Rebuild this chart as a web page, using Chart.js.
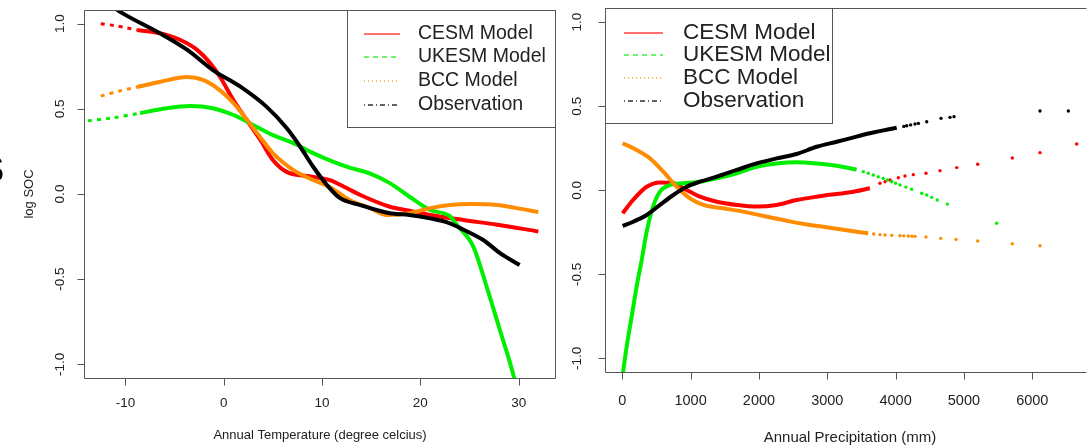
<!DOCTYPE html>
<html>
<head>
<meta charset="utf-8">
<script src="https://cdn.jsdelivr.net/npm/chart.js@4.4.0/dist/chart.umd.min.js"></script>
<style>
  body { margin: 0; overflow: hidden; background: #fff; }
  canvas { position: absolute; top: 0; }
</style>
</head>
<body>
<canvas id="tempChart" width="575" height="446" style="left:0px"></canvas>
<canvas id="precChart" width="527" height="446" style="left:560px"></canvas>
<script>
// ---- left panel: annual temperature ----
const tempTicksX = [-10, 0, 10, 20, 30];
const socTicks = [-1.0, -0.5, 0.0, 0.5, 1.0];

const tempCesmHeadX = [-12.5, -11.2, -9.9, -8.8];
const tempCesmHeadY = [1.0, 0.99, 0.976, 0.963];
const tempCesmX = [-8.8, -6.5, -4.4, -2.7, -1.4, -0.4, 1.0, 2.4, 3.7, 5.0, 6.4, 8.5, 10.8, 12.5, 13.9, 16.9, 18.9, 21, 24.4, 27.8, 32];
const tempCesmY = [0.963, 0.944, 0.904, 0.846, 0.77, 0.69, 0.55, 0.43, 0.32, 0.2, 0.13, 0.106, 0.082, 0.035, -0.006, -0.075, -0.098, -0.123, -0.153, -0.18, -0.22];

const tempUkesmHeadX = [-13.8, -11.5, -8.5];
const tempUkesmHeadY = [0.43, 0.445, 0.475];
const tempUkesmX = [-8.5, -5.8, -3.4, -1.1, 1.0, 3.0, 5.0, 7.1, 9.1, 11.1, 12.8, 14.9, 16.9, 18.9, 21, 23.0, 23.7, 25.4, 26.75, 28.1, 29.5, 29.8];
const tempUkesmY = [0.475, 0.504, 0.517, 0.504, 0.464, 0.405, 0.346, 0.299, 0.24, 0.19, 0.155, 0.12, 0.064, -0.016, -0.094, -0.13, -0.18, -0.31, -0.545, -0.8, -1.07, -1.15];

const tempBccHeadX = [-12.5, -10.6, -8.8];
const tempBccHeadY = [0.575, 0.605, 0.628];
const tempBccX = [-8.8, -6.5, -3.7, -2.1, -0.4, 1.0, 2.4, 3.7, 5.0, 7.1, 9.1, 10.8, 12.8, 14.9, 16.6, 18.9, 21, 23, 25.1, 27.8, 29.8, 32];
const tempBccY = [0.628, 0.658, 0.687, 0.67, 0.61, 0.534, 0.434, 0.335, 0.24, 0.14, 0.082, 0.04, -0.035, -0.083, -0.123, -0.113, -0.083, -0.065, -0.059, -0.065, -0.083, -0.106];

const tempObsX = [-11.8, -10.4, -6.5, -3.7, -1.1, 1.7, 4.4, 6.4, 7.8, 9.1, 10.5, 11.8, 13.9, 16.9, 18.9, 21, 23, 24.4, 26.4, 28.1, 30.1];
const tempObsY = [1.12, 1.065, 0.944, 0.846, 0.728, 0.63, 0.51, 0.387, 0.276, 0.16, 0.053, -0.023, -0.065, -0.113, -0.123, -0.143, -0.172, -0.21, -0.27, -0.347, -0.417];

// ---- right panel: annual precipitation ----
const precTicksX = [0, 1000, 2000, 3000, 4000, 5000, 6000];

const precCesmX = [5, 157, 357, 552, 742, 890, 1137, 1381, 1674, 1967, 2259, 2552, 2845, 3138, 3332, 3624];
const precCesmY = [-0.137, -0.058, 0.021, 0.047, 0.043, 0.014, -0.038, -0.068, -0.087, -0.097, -0.087, -0.058, -0.038, -0.022, -0.012, 0.012];
const precCesmDotX = [3771, 3845, 3918, 4040, 4137, 4259, 4445, 4650, 4894, 5201, 5708, 6113, 6650];
const precCesmDotY = [0.042, 0.051, 0.061, 0.075, 0.085, 0.093, 0.101, 0.117, 0.135, 0.155, 0.192, 0.224, 0.275];

const precUkesmX = [5, 64, 137, 210, 284, 357, 450, 552, 698, 890, 1137, 1381, 1674, 1967, 2259, 2552, 2845, 3138, 3332, 3430];
const precUkesmY = [-1.1, -0.93, -0.752, -0.573, -0.415, -0.245, -0.098, -0.008, 0.032, 0.042, 0.051, 0.071, 0.101, 0.14, 0.16, 0.167, 0.16, 0.146, 0.131, 0.123];
const precUkesmDotX = [3528, 3600, 3674, 3745, 3820, 3880, 3943, 4000, 4064, 4150, 4235, 4382, 4455, 4528, 4610, 4757, 5479];
const precUkesmDotY = [0.111, 0.101, 0.091, 0.081, 0.071, 0.061, 0.051, 0.042, 0.032, 0.019, 0.006, -0.018, -0.028, -0.042, -0.058, -0.082, -0.196];

const precBccX = [5, 210, 405, 600, 796, 991, 1186, 1478, 1771, 2064, 2357, 2650, 2942, 3234, 3600];
const precBccY = [0.28, 0.24, 0.19, 0.111, 0.021, -0.048, -0.087, -0.107, -0.127, -0.153, -0.177, -0.2, -0.217, -0.235, -0.256];
const precBccDotX = [3680, 3771, 3845, 3943, 4064, 4120, 4186, 4240, 4284, 4445, 4660, 4884, 5201, 5708, 6113];
const precBccDotY = [-0.26, -0.264, -0.266, -0.268, -0.27, -0.271, -0.272, -0.273, -0.274, -0.278, -0.286, -0.292, -0.302, -0.318, -0.33];

const precObsX = [5, 161, 357, 552, 747, 942, 1137, 1381, 1674, 1967, 2259, 2552, 2845, 3138, 3332, 3624, 4016];
const precObsY = [-0.212, -0.187, -0.147, -0.087, -0.028, 0.021, 0.051, 0.081, 0.121, 0.16, 0.19, 0.216, 0.259, 0.289, 0.309, 0.339, 0.372];
const precObsDotX = [4120, 4162, 4220, 4284, 4333, 4455, 4665, 4796, 4855, 6113, 6528];
const precObsDotY = [0.38, 0.384, 0.389, 0.394, 0.398, 0.408, 0.428, 0.434, 0.438, 0.472, 0.472];

const legendNames = ['CESM Model', 'UKESM Model', 'BCC Model', 'Observation'];
const RED = '#ff0000', GREEN = '#00ee00', ORANGE = '#ff8c00', BLACK = '#000000';
const legendColors = ['#ff4040', '#40ee40', '#ffa030', '#333333'];
const legendDash = [[], [5, 4], [1, 3], [1, 3, 5, 3]];
const FONT = '"Liberation Sans", Arial, Helvetica, sans-serif';

function pts(xs, ys) { return xs.map((x, i) => ({x: x, y: ys[i]})); }
function curve(xs, ys, c) {
  return {data: pts(xs, ys), showLine: true, borderColor: c, borderWidth: 4, pointRadius: 0,
    cubicInterpolationMode: 'monotone', fill: false};
}
function head(xs, ys, c) {
  return {data: pts(xs, ys), showLine: true, borderColor: c, borderWidth: 3, borderDash: [4, 5],
    pointRadius: 0, tension: 0.3, fill: false};
}
function dots(xs, ys, c) {
  return {data: pts(xs, ys), showLine: false, pointRadius: 1.7, pointBorderWidth: 0,
    pointBackgroundColor: c, borderColor: c};
}

function axisOpts(min, max, tickValues, fitSize, horizontal) {
  return {
    type: 'linear', min: min, max: max,
    ticks: {display: false},
    afterBuildTicks: s => { s.ticks = tickValues.map(v => ({value: v})); },
    grid: {display: false},
    border: {display: false},
    afterFit: s => { if (horizontal) s.height = fitSize; else s.width = fitSize; }
  };
}

// box, tick marks, tick labels, titles and legend drawn like the R base graphics
function decorPlugin(cfg) {
  return {
    id: 'decor',
    afterDatasetsDraw(chart) {
      const ctx = chart.ctx, a = chart.chartArea;
      const xs = chart.scales.x, ys = chart.scales.y;
      ctx.save();
      ctx.strokeStyle = '#555';
      ctx.lineWidth = 1;
      const L = Math.round(a.left) + 0.5, T = Math.round(a.top) + 0.5;
      const R = Math.round(a.right) - 0.5, B = Math.round(a.bottom) + 0.5;
      ctx.beginPath();
      ctx.moveTo(R, T); ctx.lineTo(L, T); ctx.lineTo(L, B); ctx.lineTo(R, B);
      if (cfg.rightBorder) ctx.lineTo(R, T);
      cfg.xTicks.forEach(v => {
        const px = Math.round(xs.getPixelForValue(v)) + 0.5;
        ctx.moveTo(px, B); ctx.lineTo(px, B + 7);
      });
      cfg.yTicks.forEach(v => {
        const py = Math.round(ys.getPixelForValue(v)) + 0.5;
        ctx.moveTo(L, py); ctx.lineTo(L - 7, py);
      });
      ctx.stroke();

      ctx.fillStyle = '#222';
      ctx.textAlign = 'center';
      ctx.textBaseline = 'middle';
      ctx.font = cfg.xTickFont + 'px ' + FONT;
      cfg.xTicks.forEach(v => ctx.fillText(String(v), xs.getPixelForValue(v), cfg.xTickY));
      ctx.font = cfg.yTickFont + 'px ' + FONT;
      cfg.yTicks.forEach(v => {
        ctx.save();
        ctx.translate(cfg.yTickX, ys.getPixelForValue(v));
        ctx.rotate(-Math.PI / 2);
        ctx.fillText(v.toFixed(1), 0, 0);
        ctx.restore();
      });
      ctx.font = cfg.titleFont + 'px ' + FONT;
      ctx.fillText(cfg.xTitle, cfg.xTitleX, cfg.xTitleY);
      if (cfg.yTitle) {
        ctx.save();
        ctx.translate(cfg.yTitleX, (a.top + a.bottom) / 2);
        ctx.rotate(-Math.PI / 2);
        ctx.fillText(cfg.yTitle, 0, 0);
        ctx.restore();
      }
      if (cfg.panelMark) {
        ctx.font = 'bold 36px ' + FONT;
        ctx.textAlign = 'left';
        ctx.fillStyle = '#000';
        ctx.fillText(cfg.panelMark, -20, 172);
      }

      // legend
      const lg = cfg.legend;
      ctx.fillStyle = '#fff';
      ctx.fillRect(lg.x0, lg.y0, lg.x1 - lg.x0, lg.y1 - lg.y0);
      ctx.strokeStyle = '#555';
      ctx.lineWidth = 1;
      ctx.strokeRect(lg.x0 + 0.5, lg.y0 + 0.5, lg.x1 - lg.x0 - 1, lg.y1 - lg.y0);
      ctx.font = lg.font + 'px ' + FONT;
      ctx.textAlign = 'left';
      legendNames.forEach((name, i) => {
        const y = lg.rows[i];
        ctx.strokeStyle = legendColors[i];
        ctx.lineWidth = 1.3;
        ctx.setLineDash(legendDash[i]);
        ctx.beginPath();
        ctx.moveTo(lg.s0, y); ctx.lineTo(lg.s1, y);
        ctx.stroke();
        ctx.setLineDash([]);
        ctx.fillStyle = '#222';
        ctx.fillText(name, lg.tx, y);
      });
      ctx.restore();
    }
  };
}

new Chart(document.getElementById('tempChart').getContext('2d'), {
  type: 'scatter',
  data: {
    datasets: [
      curve(tempObsX, tempObsY, BLACK),
      curve(tempBccX, tempBccY, ORANGE),
      head(tempBccHeadX, tempBccHeadY, ORANGE),
      curve(tempUkesmX, tempUkesmY, GREEN),
      head(tempUkesmHeadX, tempUkesmHeadY, GREEN),
      curve(tempCesmX, tempCesmY, RED),
      head(tempCesmHeadX, tempCesmHeadY, RED)
    ]
  },
  options: {
    responsive: false,
    animation: false,
    layout: {autoPadding: false, padding: {left: 0, top: 10, right: 19, bottom: 0}},
    plugins: {legend: {display: false}, tooltip: {enabled: false}},
    scales: {
      x: axisOpts(-14.21, 33.8, tempTicksX, 68, true),
      y: axisOpts(-1.0805, 1.0805, socTicks, 84, false)
    }
  },
  plugins: [decorPlugin({
    rightBorder: true,
    xTicks: tempTicksX, yTicks: socTicks,
    xTickFont: 13.5, yTickFont: 13.5, xTickY: 403, yTickX: 60,
    titleFont: 13, xTitle: 'Annual Temperature (degree celcius)', xTitleX: 320, xTitleY: 435,
    yTitle: 'log SOC', yTitleX: 29,
    panelMark: 'S',
    legend: {x0: 347, y0: 10, x1: 556, y1: 127, s0: 364, s1: 400, tx: 418, font: 19.5, rows: [34, 57, 81, 105]}
  })]
});

new Chart(document.getElementById('precChart').getContext('2d'), {
  type: 'scatter',
  data: {
    datasets: [
      curve(precObsX, precObsY, BLACK),
      dots(precObsDotX, precObsDotY, BLACK),
      curve(precBccX, precBccY, ORANGE),
      dots(precBccDotX, precBccDotY, ORANGE),
      curve(precUkesmX, precUkesmY, GREEN),
      dots(precUkesmDotX, precUkesmDotY, GREEN),
      curve(precCesmX, precCesmY, RED),
      dots(precCesmDotX, precCesmDotY, RED)
    ]
  },
  options: {
    responsive: false,
    animation: false,
    layout: {autoPadding: false, padding: {left: 0, top: 8, right: 0, bottom: 0}},
    plugins: {legend: {display: false}, tooltip: {enabled: false}},
    scales: {
      x: axisOpts(-253, 6801, precTicksX, 74, true),
      y: axisOpts(-1.081, 1.0845, socTicks, 45, false)
    }
  },
  plugins: [decorPlugin({
    rightBorder: false,
    xTicks: precTicksX, yTicks: socTicks,
    xTickFont: 14.5, yTickFont: 13.5, xTickY: 401, yTickX: 17.5,
    titleFont: 15, xTitle: 'Annual Precipitation (mm)', xTitleX: 290, xTitleY: 438,
    legend: {x0: 45, y0: 8, x1: 273, y1: 123, s0: 64, s1: 103, tx: 123, font: 22.5, rows: [33, 55, 78, 101]}
  })]
});
</script>
</body>
</html>
